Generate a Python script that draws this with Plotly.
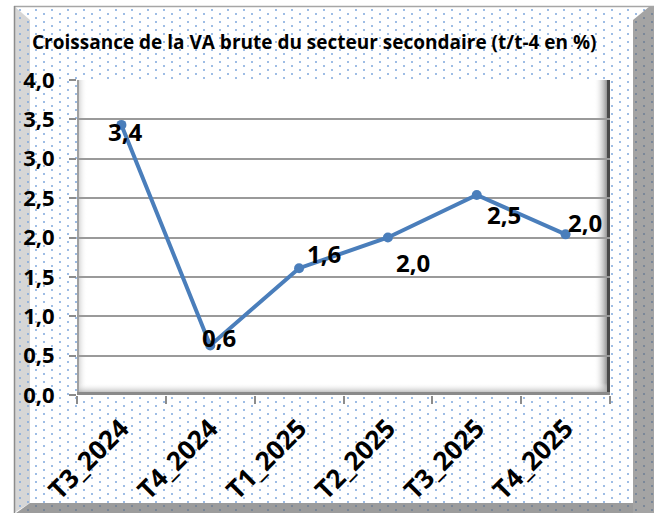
import base64
import plotly.graph_objects as go

# ---- data ----
categories = ["T3_2024", "T4_2024", "T1_2025", "T2_2025", "T3_2025", "T4_2025"]
growth = [3.43, 0.63, 1.61, 2.00, 2.54, 2.04]
y_ticks = [0.0, 0.5, 1.0, 1.5, 2.0, 2.5, 3.0, 3.5, 4.0]
title_text = "Croissance de la VA brute du secteur secondaire (t/t-4 en %)"

# ---- style ----
W, H = 654, 513
ML, MR, MT, MB = 77, 44, 80, 118
PW, PH = W - ML - MR, H - MT - MB
FONT = "Open Sans"
LINE_COLOR = "#4a7ebb"
label_shifts = [(4, -7), (9, 8), (25, 15), (25, -25), (27, -20), (19, 12)]


def svg_uri(svg):
    return "data:image/svg+xml;base64," + base64.b64encode(svg.encode()).decode()


bg_svg = f"""<svg xmlns='http://www.w3.org/2000/svg' width='{W}' height='{H}' viewBox='0 0 {W} {H}'>
<defs>
<pattern id='d' width='16' height='8' patternUnits='userSpaceOnUse'>
<circle cx='4' cy='2' r='1' fill='#7da7dc'/><circle cx='12' cy='6' r='1' fill='#7da7dc'/>
</pattern>
<pattern id='dd' width='16' height='8' patternUnits='userSpaceOnUse'>
<circle cx='4' cy='2' r='1' fill='#6d7f96'/><circle cx='12' cy='6' r='1' fill='#6d7f96'/>
</pattern>
</defs>
<rect x='0' y='0' width='{W}' height='{H}' fill='white'/>
<rect x='14' y='6' width='{W-14}' height='{H-6}' fill='url(#d)'/>
<polygon points='14,6 30,20 30,503 14,513' fill='#d6d6d6'/>
<polygon points='14,6 30,20 30,503 14,513' fill='url(#d)'/>
<polygon points='633,20 650,6 654,6 654,513 633,513' fill='#a4a4a4'/>
<polygon points='633,20 650,6 654,6 654,513 633,513' fill='url(#dd)'/>
<polygon points='30,503 633,503 633,513 16,513' fill='#9c9c9c'/>
<polygon points='30,503 633,503 633,513 16,513' fill='url(#dd)'/>
<line x1='14' y1='6.5' x2='654' y2='6.5' stroke='#a6a6a6' stroke-width='1.5'/>
<line x1='14.5' y1='6' x2='14.5' y2='513' stroke='#8c8c8c' stroke-width='1.5'/>
</svg>"""

wall_svg = f"""<svg xmlns='http://www.w3.org/2000/svg' width='{PW}' height='{PH}' viewBox='0 0 {PW} {PH}' preserveAspectRatio='none'>
<defs>
<linearGradient id='l' x1='0' y1='0' x2='1' y2='0'><stop offset='0' stop-color='#c4c4c4'/><stop offset='1' stop-color='#ffffff' stop-opacity='0'/></linearGradient>
<linearGradient id='r' x1='0' y1='0' x2='1' y2='0'><stop offset='0' stop-color='#ffffff' stop-opacity='0'/><stop offset='1' stop-color='#5e5e5e'/></linearGradient>
<linearGradient id='b' x1='0' y1='0' x2='0' y2='1'><stop offset='0' stop-color='#ffffff' stop-opacity='0'/><stop offset='1' stop-color='#959595'/></linearGradient>
</defs>
<rect x='0' y='0' width='{PW}' height='{PH}' fill='white'/>
<rect x='0' y='0' width='10' height='{PH}' fill='url(#l)'/>
<rect x='{PW-16}' y='0' width='16' height='{PH}' fill='url(#r)'/>
<rect x='0' y='{PH-12}' width='{PW}' height='12' fill='url(#b)'/>
<line x1='1' y1='0' x2='1' y2='{PH}' stroke='#a0a0a0' stroke-width='2'/>
<line x1='{PW-1.5}' y1='0' x2='{PW-1.5}' y2='{PH}' stroke='#4a4a4a' stroke-width='3'/>
<line x1='0' y1='{PH-1.5}' x2='{PW}' y2='{PH-1.5}' stroke='#8a8a8a' stroke-width='3'/>
</svg>"""

fig = go.Figure()
fig.add_trace(go.Scatter(
    x=categories, y=growth, mode="lines+markers",
    line=dict(color=LINE_COLOR, width=4),
    marker=dict(color=LINE_COLOR, size=10),
    hoverinfo="skip", showlegend=False,
))

annotations = []
for c, v, (dx, dy) in zip(categories, growth, label_shifts):
    annotations.append(dict(
        x=c, y=v, xref="x", yref="y", text=f"{v:.1f}".replace(".", ","),
        showarrow=False, xshift=dx, yshift=dy,
        font=dict(family=FONT, size=24, color="black", weight="bold"),
    ))
annotations.append(dict(
    x=(30 - ML) / PW, y=1 + (MT - 42) / PH, xref="paper", yref="paper",
    xanchor="left", yanchor="middle", showarrow=False, text=title_text,
    font=dict(family=FONT, size=19, color="black", weight="bold"),
))

fig.update_layout(
    width=W, height=H,
    margin=dict(l=ML, r=MR, t=MT, b=MB, pad=0, autoexpand=False),
    paper_bgcolor="white", plot_bgcolor="rgba(0,0,0,0)",
    separators=", ",
    annotations=annotations,
    images=[
        dict(source=svg_uri(bg_svg), xref="paper", yref="paper",
             x=-ML / PW, y=1 + MT / PH, sizex=W / PW, sizey=H / PH,
             xanchor="left", yanchor="top", sizing="stretch", layer="below"),
        dict(source=svg_uri(wall_svg), xref="x domain", yref="y domain",
             x=0, y=1, sizex=1, sizey=1, xanchor="left", yanchor="top",
             sizing="stretch", layer="below"),
    ],
    xaxis=dict(
        type="category", range=[-0.5, len(categories) - 0.5],
        tickson="boundaries", ticks="outside", ticklen=8, tickwidth=2,
        tickcolor="#8c8c8c", tickangle=-45, showgrid=False, showline=False,
        zeroline=False, ticklabelstandoff=12, automargin=False,
        tickfont=dict(family=FONT, size=26, color="black", weight="bold"),
    ),
    yaxis=dict(
        range=[0, 4], tickvals=y_ticks, tickformat=".1f",
        ticks="outside", ticklen=7, tickwidth=2, tickcolor="#8c8c8c",
        showgrid=True, gridcolor="#9a9a9a", gridwidth=2,
        showline=False, zeroline=False, ticklabelstandoff=10, automargin=False,
        tickfont=dict(family=FONT, size=22, color="black", weight="bold"),
    ),
)

fig.write_html(
    "out.html",
    config={"displayModeBar": False},
    post_script="document.body.style.margin='0';document.body.style.overflow='hidden';",
)
